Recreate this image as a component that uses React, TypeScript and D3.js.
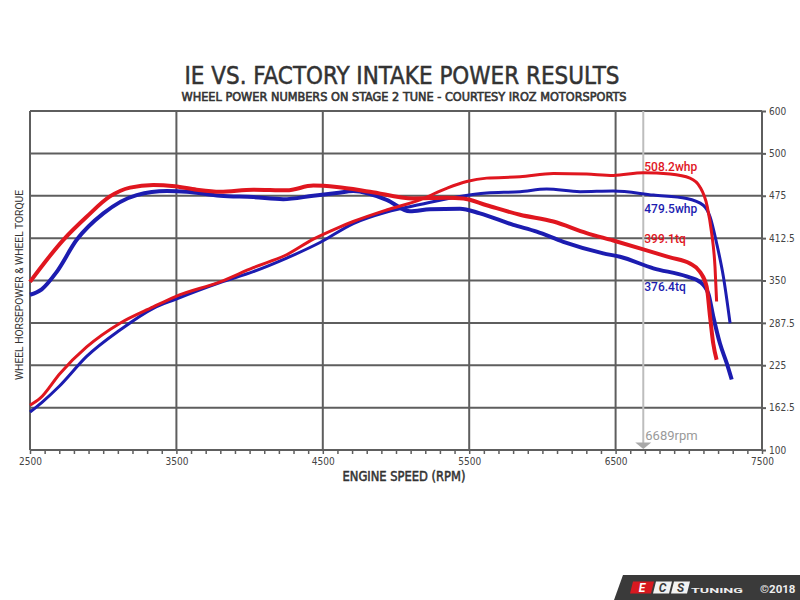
import React, { useEffect, useRef } from "react";
import * as d3 from "d3";

// x axis ticks (rpm) and right axis labels
const rpmTicks = [2500, 3500, 4500, 5500, 6500, 7500];
const yTickValues = [100, 162.5, 225, 287.5, 350, 412.5, 475, 537.5, 600];
const yTickLabels = ["100", "162.5", "225", "287.5", "350", "412.5", "475", "500", "600"];

// IE intake (red)
const ieTqRpm = [2500, 2728, 2887, 3046, 3183, 3342, 3490, 3638, 3798, 4025, 4253, 4435, 4595, 4822, 5118, 5346, 5460, 5619, 5847, 6075, 6302, 6484, 6689, 6872, 7008, 7076, 7122, 7145, 7167, 7190];
const ieTq = [348, 410, 444, 474, 487, 491, 489, 484, 481, 484, 483, 490, 488, 481, 471, 472, 471, 461, 447, 437, 420, 409, 396, 384, 375, 363, 341, 297, 257, 233];
const ieHpRpm = [2500, 2568, 2705, 2887, 3115, 3342, 3490, 3798, 4025, 4253, 4435, 4595, 4708, 4936, 5164, 5346, 5483, 5619, 5847, 6075, 6302, 6484, 6689, 6872, 7008, 7076, 7126, 7156, 7179, 7190];
const ieHp = [166, 176, 213, 252, 287, 311, 326, 348, 369, 388, 411, 427, 437, 454, 469, 486, 496, 501, 503, 508, 507, 505, 509, 507, 501, 488, 459, 420, 370, 319];

// factory intake (blue)
const factoryTqRpm = [2500, 2580, 2680, 2819, 3001, 3229, 3434, 3570, 3798, 4025, 4230, 4435, 4595, 4708, 4936, 5095, 5232, 5437, 5573, 5801, 5961, 6143, 6416, 6530, 6758, 6985, 7076, 7133, 7167, 7213, 7259, 7293];
const factoryTq = [329, 337, 362, 410, 449, 476, 482, 481, 475, 473, 470, 475, 479, 482, 469, 452, 455, 456, 449, 432, 422, 407, 390, 385, 368, 356, 348, 331, 297, 257, 228, 204];
const factoryHpRpm = [2500, 2580, 2700, 2887, 3115, 3342, 3490, 3798, 4025, 4253, 4481, 4708, 4936, 5164, 5437, 5619, 5847, 6029, 6257, 6484, 6758, 6985, 7099, 7145, 7190, 7236, 7282];
const factoryHp = [156, 170, 194, 238, 277, 309, 322, 347, 363, 383, 406, 434, 451, 462, 474, 479, 481, 485, 481, 482, 476, 471, 461, 444, 405, 356, 287];

const markerRpm = 6689;
const peakLabels = ["508.2whp", "479.5whp", "399.1tq", "376.4tq"];

const RED = "#e0161f";
const BLUE = "#1c1cb0";

const App: React.FC = () => {
  const svgRef = useRef<SVGSVGElement | null>(null);

  useEffect(() => {
    if (!svgRef.current) return;
    const width = 800;
    const height = 600;
    const left = 30;
    const right = 762;
    const top = 111;
    const bottom = 450;
    const font = "Roboto, 'DejaVu Sans', sans-serif";
    const condensed = "'DejaVu Sans Condensed', 'Liberation Sans Narrow', Roboto, sans-serif";

    const x = d3.scaleLinear().domain([2500, 7500]).range([left, right]);
    const y = d3.scaleLinear().domain([100, 600]).range([bottom, top]);

    const svg = d3
      .select(svgRef.current)
      .attr("viewBox", [0, 0, width, height])
      .attr("width", width)
      .attr("height", height);

    svg.append("rect").attr("width", width).attr("height", height).attr("fill", "#fff");

    // titles
    svg
      .append("text")
      .attr("x", 402)
      .attr("y", 84)
      .attr("text-anchor", "middle")
      .attr("font-family", condensed)
      .attr("font-size", 25)
      .attr("fill", "#333")
      .attr("stroke", "#333")
      .attr("stroke-width", 0.5)
      .attr("textLength", 435)
      .attr("lengthAdjust", "spacingAndGlyphs")
      .text("IE VS. FACTORY INTAKE POWER RESULTS");
    svg
      .append("text")
      .attr("x", 404)
      .attr("y", 101)
      .attr("text-anchor", "middle")
      .attr("font-family", condensed)
      .attr("font-size", 13)
      .attr("fill", "#333")
      .attr("stroke", "#333")
      .attr("stroke-width", 0.6)
      .attr("textLength", 445)
      .attr("lengthAdjust", "spacingAndGlyphs")
      .text("WHEEL POWER NUMBERS ON STAGE 2 TUNE - COURTESY IROZ MOTORSPORTS");

    // grid
    svg
      .append("g")
      .selectAll("line")
      .data(yTickValues)
      .join("line")
      .attr("x1", left)
      .attr("x2", right)
      .attr("y1", (d) => y(d))
      .attr("y2", (d) => y(d))
      .attr("stroke", "#5e5e5e")
      .attr("stroke-width", 2);
    svg
      .append("g")
      .selectAll("line")
      .data(rpmTicks)
      .join("line")
      .attr("x1", (d) => x(d))
      .attr("x2", (d) => x(d))
      .attr("y1", top)
      .attr("y2", bottom)
      .attr("stroke", "#5e5e5e")
      .attr("stroke-width", 2);

    // minor ticks on the bottom axis
    svg
      .append("g")
      .attr("transform", `translate(0,${bottom})`)
      .call(d3.axisBottom(x).tickValues(d3.range(2500, 7501, 100)).tickSize(4).tickFormat(() => ""))
      .call((g) => g.select(".domain").remove())
      .call((g) => g.selectAll(".tick line").attr("stroke", "#5e5e5e").attr("stroke-width", 1.5));

    svg
      .append("g")
      .attr("transform", `translate(0,${bottom})`)
      .call(d3.axisBottom(x).tickValues(rpmTicks).tickSize(0).tickPadding(8).tickFormat(d3.format("d")))
      .call((g) => g.select(".domain").remove())
      .call((g) =>
        g.selectAll(".tick text").attr("font-family", condensed).attr("font-size", 10).attr("fill", "#444")
      );

    svg
      .append("g")
      .attr("transform", `translate(${right},0)`)
      .call(
        d3
          .axisRight(y)
          .tickValues(yTickValues)
          .tickSize(4)
          .tickPadding(3)
          .tickFormat((_, i) => yTickLabels[i])
      )
      .call((g) => g.select(".domain").remove())
      .call((g) => g.selectAll(".tick line").attr("stroke", "#5e5e5e").attr("stroke-width", 2))
      .call((g) =>
        g.selectAll(".tick text").attr("font-family", condensed).attr("font-size", 10).attr("fill", "#444")
      );

    // axis titles
    svg
      .append("text")
      .attr("x", 404)
      .attr("y", 481)
      .attr("text-anchor", "middle")
      .attr("font-family", condensed)
      .attr("font-size", 13.5)
      .attr("fill", "#333")
      .attr("stroke", "#333")
      .attr("stroke-width", 0.5)
      .attr("textLength", 123)
      .attr("lengthAdjust", "spacingAndGlyphs")
      .text("ENGINE SPEED (RPM)");
    svg
      .append("text")
      .attr("transform", "translate(23,285) rotate(-90)")
      .attr("text-anchor", "middle")
      .attr("font-family", font)
      .attr("font-size", 10.5)
      .attr("fill", "#333")
      .attr("textLength", 190)
      .attr("lengthAdjust", "spacingAndGlyphs")
      .text("WHEEL HORSEPOWER & WHEEL TORQUE");

    // rpm marker
    const mx = x(markerRpm);
    svg
      .append("line")
      .attr("x1", mx)
      .attr("x2", mx)
      .attr("y1", top)
      .attr("y2", 444)
      .attr("stroke", "#bdbdbd")
      .attr("stroke-width", 2);
    svg
      .append("path")
      .attr("d", `M${mx - 8},442.5L${mx + 8},442.5L${mx},449Z`)
      .attr("fill", "#a9a9a9");
    svg
      .append("text")
      .attr("x", mx + 2)
      .attr("y", 440)
      .attr("font-family", font)
      .attr("font-size", 13)
      .attr("fill", "#9a9a9a")
      .text(`${markerRpm}rpm`);

    // curves
    const line = d3
      .line<[number, number]>()
      .curve(d3.curveMonotoneX)
      .x((d) => x(d[0]))
      .y((d) => y(d[1]));
    const series = [
      { rpm: factoryHpRpm, v: factoryHp, color: BLUE, w: 3 },
      { rpm: factoryTqRpm, v: factoryTq, color: BLUE, w: 4 },
      { rpm: ieHpRpm, v: ieHp, color: RED, w: 3 },
      { rpm: ieTqRpm, v: ieTq, color: RED, w: 4 },
    ];
    series.forEach((s) => {
      svg
        .append("path")
        .datum(s.rpm.map((r, i) => [r, s.v[i]] as [number, number]))
        .attr("fill", "none")
        .attr("stroke", s.color)
        .attr("stroke-width", s.w)
        .attr("stroke-linejoin", "round")
        .attr("d", line);
    });

    // peak labels
    const labelY = [512, 450, 406, 334.5];
    const labelColor = [RED, BLUE, RED, BLUE];
    peakLabels.forEach((t, i) => {
      svg
        .append("text")
        .attr("x", mx + 1)
        .attr("y", y(labelY[i]))
        .attr("font-family", font)
        .attr("font-weight", 500)
        .attr("font-size", 12)
        .attr("fill", labelColor[i])
        .text(t);
    });

    // badge
    const badge = svg.append("g");
    badge.append("path").attr("d", "M623,575L800,575L800,600L614,600Z").attr("fill", "#3a3a3a");
    const boxes = [
      { x0: 630, fill: "#d71920", letter: "E", color: "#fff" },
      { x0: 653, fill: "#f2f2f2", letter: "C", color: "#3a3a3a" },
      { x0: 671, fill: "#f2f2f2", letter: "S", color: "#3a3a3a" },
    ];
    boxes.forEach((b) => {
      const w = b.letter === "E" ? 21 : 16;
      badge
        .append("path")
        .attr("d", `M${b.x0 + 3},581.5L${b.x0 + w + 3},581.5L${b.x0 + w},593.5L${b.x0},593.5Z`)
        .attr("fill", b.fill);
      badge
        .append("text")
        .attr("x", b.x0 + w / 2 + 1.5)
        .attr("y", 592)
        .attr("text-anchor", "middle")
        .attr("font-family", font)
        .attr("font-weight", "bold")
        .attr("font-style", "italic")
        .attr("font-size", 12)
        .attr("fill", b.color)
        .text(b.letter);
    });
    badge
      .append("text")
      .attr("x", 691)
      .attr("y", 593)
      .attr("font-family", font)
      .attr("font-weight", "bold")
      .attr("font-size", 7)
      .attr("fill", "#eee")
      .attr("textLength", 52)
      .attr("lengthAdjust", "spacingAndGlyphs")
      .text("TUNING");
    badge
      .append("text")
      .attr("x", 760)
      .attr("y", 593)
      .attr("font-family", font)
      .attr("font-weight", "bold")
      .attr("font-size", 11.5)
      .attr("fill", "#eee")
      .text("©2018");

    return () => {
      svg.selectAll("*").remove();
    };
  }, []);

  return <svg ref={svgRef} style={{ position: "absolute", left: 0, top: 0 }}></svg>;
};

export default App;
